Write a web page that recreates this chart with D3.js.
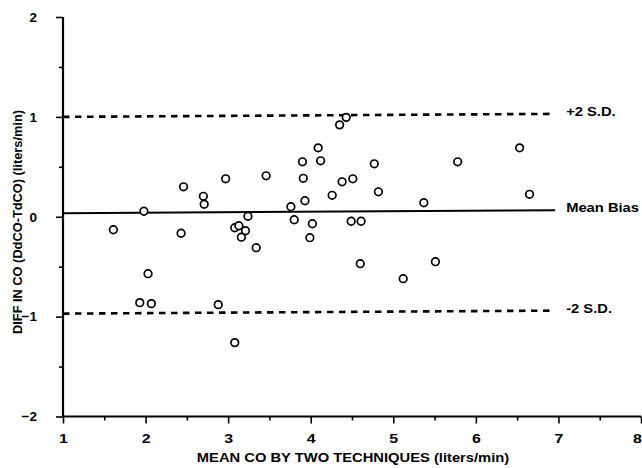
<!DOCTYPE html>
<html>
<head>
<meta charset="utf-8">
<script src="https://cdn.jsdelivr.net/npm/d3@7"></script>
<style>
  body { margin: 0; background: #fff; }
  svg { display: block; }
  text { font-family: 'Liberation Sans', Arial, Helvetica, sans-serif; font-weight: bold; fill: #000; }
</style>
</head>
<body>
<svg></svg>
<script>
// mean CO (x) and difference (y)
var meanCO = [1.61, 1.98, 2.03, 1.93, 2.07, 2.46, 2.43, 2.70, 2.71, 2.88, 2.97, 3.08, 3.08, 3.13, 3.21,
              3.16, 3.24, 3.34, 3.46, 3.90, 3.91, 3.93, 3.76, 3.80, 3.99, 4.02, 4.09, 4.12, 4.26, 4.35,
              4.43, 4.38, 4.51, 4.49, 4.61, 4.60, 4.77, 4.82, 5.12, 5.37, 5.51, 5.78, 6.53, 6.65];
var diffCO = [-0.13, 0.055, -0.57, -0.86, -0.87, 0.30, -0.165, 0.205, 0.125, -0.88, 0.38, -1.26, -0.11, -0.09, -0.14,
              -0.205, 0.005, -0.31, 0.41, 0.55, 0.385, 0.16, 0.10, -0.03, -0.21, -0.07, 0.69, 0.56, 0.215, 0.92,
              0.995, 0.35, 0.38, -0.045, -0.045, -0.47, 0.53, 0.25, -0.62, 0.14, -0.45, 0.55, 0.69, 0.225];

// reference lines: [label, value at left, value at right, dashed]
var refLines = [['+2 S.D.', 1.0, 1.03, true], ['Mean Bias', 0.035, 0.065, false], ['-2 S.D.', -0.97, -0.94, true]];
var lineStart = 1, lineEnd = 6.96;

var xTicks = [1, 2, 3, 4, 5, 6, 7, 8];
var xMinor = [1.5, 2.5, 3.5, 4.5, 5.5, 6.5, 7.5];
var yTicks = [-2, -1, 0, 1, 2];
var yMinor = [-1.5, -0.5, 0.5, 1.5];

var width = 642, height = 468;
var stretch = 1.18; // the scanned lettering is wider than it is tall

var svg = d3.select('svg').attr('width', width).attr('height', height);

var xScale = d3.scaleLinear().domain([1, 8]).range([63, 641]);
var yScale = d3.scaleLinear().domain([-2, 2]).range([416.5, 17]);

// axes
var xAxis = d3.axisBottom(xScale).tickValues(xTicks).tickFormat(d3.format('d')).tickSize(7).tickPadding(10);
var xAxisMinor = d3.axisBottom(xScale).tickValues(xMinor).tickFormat('').tickSize(4);
var yAxis = d3.axisLeft(yScale).tickValues(yTicks).tickFormat(d3.format('d')).tickSize(7).tickPadding(19);
var yAxisMinor = d3.axisLeft(yScale).tickValues(yMinor).tickFormat('').tickSize(4);

var gx = svg.append('g').attr('transform', 'translate(0,' + yScale(-2) + ')').call(xAxis);
var gxm = svg.append('g').attr('transform', 'translate(0,' + yScale(-2) + ')').call(xAxisMinor);
var gy = svg.append('g').attr('transform', 'translate(' + xScale(1) + ',0)').call(yAxis);
var gym = svg.append('g').attr('transform', 'translate(' + xScale(1) + ',0)').call(yAxisMinor);

[gx, gxm, gy, gym].forEach(function(g) {
    g.attr('font-family', null).attr('font-size', null);
});

// plain axis lines without the outer end ticks
gx.select('.domain').attr('d', 'M' + xScale(1) + ',0H' + xScale(8));
gy.select('.domain').attr('d', 'M0,' + yScale(2) + 'V' + yScale(-2));
gxm.select('.domain').remove();
gym.select('.domain').remove();

svg.selectAll('.domain').attr('stroke', '#000').attr('stroke-width', 2.2);
svg.selectAll('.tick line').attr('stroke', '#000').attr('stroke-width', 1.6);
svg.selectAll('.tick text').style('font-size', '13.5px');

gx.selectAll('.tick text')
    .attr('transform', function(d) {
        return 'translate(' + (d === 8 ? -4 : 0) + ',0) scale(' + stretch + ',1)';
    });

// reference lines
svg.selectAll('.ref')
    .data(refLines)
    .enter()
    .append('line')
    .attr('class', 'ref')
    .attr('x1', xScale(lineStart))
    .attr('x2', function(d) { return xScale(lineEnd) - (d[3] ? 3 : 0); })
    .attr('y1', function(d) { return yScale(d[1]); })
    .attr('y2', function(d) { return yScale(d[2]); })
    .attr('stroke', '#000')
    .attr('stroke-width', function(d) { return d[3] ? 2.6 : 2; })
    .attr('stroke-dasharray', function(d) { return d[3] ? '6.5,5.5' : null; });

svg.selectAll('.refLabel')
    .data(refLines)
    .enter()
    .append('text')
    .attr('class', 'refLabel')
    .attr('transform', function(d) {
        return 'translate(' + (xScale(lineEnd) + 11) + ',' + (yScale(d[2]) + 2) + ') scale(' + stretch + ',1)';
    })
    .style('font-size', '12.5px')
    .text(function(d) { return d[0]; });

// points
svg.selectAll('circle')
    .data(meanCO)
    .enter()
    .append('circle')
    .attr('cx', function(d) { return xScale(d); })
    .attr('cy', function(d, i) { return yScale(diffCO[i]); })
    .attr('r', 3.8)
    .attr('fill', '#fff')
    .attr('stroke', '#000')
    .attr('stroke-width', 1.7);

// axis titles
svg.append('text')
    .attr('transform', 'translate(353,462) scale(' + stretch + ',1)')
    .attr('text-anchor', 'middle')
    .style('font-size', '12.5px')
    .text('MEAN CO BY TWO TECHNIQUES (liters/min)');

svg.append('text')
    .attr('transform', 'translate(22,222) rotate(-90)')
    .attr('text-anchor', 'middle')
    .style('font-size', '12.8px')
    .text('DIFF IN CO (DdCO-TdCO) (liters/min)');
</script>
</body>
</html>
